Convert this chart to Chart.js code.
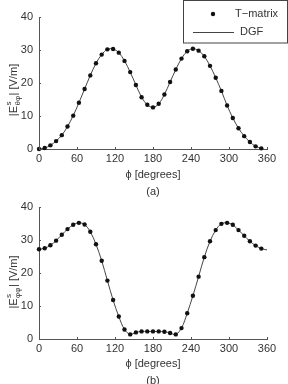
<!DOCTYPE html>
<html>
<head>
<meta charset="utf-8">
<script src="https://cdn.jsdelivr.net/npm/chart.js@4.4.1/dist/chart.umd.min.js"></script>
<style>
  html, body { margin: 0; padding: 0; background: #fff; overflow: hidden; }
  body { width: 288px; height: 384px; position: relative; }
  canvas { position: absolute; left: 0; }
  #chartA { top: 0; }
  #chartB { top: 192px; }
</style>
</head>
<body>
<canvas id="chartA" width="288" height="200"></canvas>
<canvas id="chartB" width="288" height="197"></canvas>
<script>
// angles (degrees) of the T-matrix samples
const angles = [0, 9, 18, 27, 36, 45, 54, 63, 72, 81, 90, 99, 108, 117, 126, 135, 144, 153, 162, 171,
                180, 189, 198, 207, 216, 225, 234, 243, 252, 261, 270, 279, 288, 297, 306, 315, 324, 333, 342, 351];

// (a) |E_theta phi| [V/m]
const tmatrixA = [0, 0.3, 1.1, 2.4, 4.2, 6.8, 10.1, 14, 18.2, 22.3, 26, 28.6, 30.2, 30.3, 29.2, 26.7, 23.3, 19.4, 15.7, 13.4,
                  12.6, 13.7, 16.5, 20.3, 24.1, 27.4, 29.6, 30.4, 29.8, 28.1, 25.2, 21.6, 17.6, 13.2, 9.4, 6.3, 3.9, 2.1, 0.8, 0.2];
// (b) |E_phi phi| [V/m]
const tmatrixB = [27.2, 27.5, 28.4, 29.8, 31.6, 33.3, 34.6, 35.2, 34.7, 32.5, 28.7, 23.7, 17.7, 11.8, 6.8, 2.9, 1.4, 2.0, 2.3, 2.3,
                  2.3, 2.3, 2.2, 1.8, 1.4, 3.3, 7.8, 13.1, 18.9, 24.8, 29.6, 33.0, 34.9, 35.2, 34.6, 33.0, 31.3, 29.6, 28.3, 27.4];

// DGF curve: same samples, the (b) curve closes at 360 degrees
const dgfAnglesA = angles;
const dgfA = tmatrixA;
const dgfAnglesB = angles.concat([360]);
const dgfB = tmatrixB.concat([27.0]);

const xTicks = [0, 60, 120, 180, 240, 300, 360];
const yTicks = [0, 10, 20, 30, 40];

const legendLabels = ['T\u2212matrix', 'DGF'];

const FONT = '"Liberation Sans", Arial, sans-serif';
const TEXT = '#333';
const AXIS = '#555';

function toPoints(xs, ys) {
    return xs.map((x, i) => ({ x: x, y: ys[i] }));
}

// y axis title with super/subscripts, inward tick marks and the boxed legend
const extrasPlugin = {
    id: 'extras',
    afterDraw(chart, args, opts) {
        const ctx = chart.ctx;
        const xs = chart.scales.x, ys = chart.scales.y;
        const area = chart.chartArea;

        // inward ticks
        ctx.save();
        ctx.strokeStyle = AXIS;
        ctx.lineWidth = 1;
        ctx.beginPath();
        xTicks.forEach(v => {
            const px = Math.round(xs.getPixelForValue(v)) + 0.5;
            ctx.moveTo(px, area.bottom);
            ctx.lineTo(px, area.bottom - 2);
        });
        yTicks.forEach(v => {
            const py = Math.round(ys.getPixelForValue(v)) + 0.5;
            ctx.moveTo(area.left, py);
            ctx.lineTo(area.left + 2, py);
        });
        ctx.stroke();
        ctx.restore();

        // y title
        ctx.save();
        ctx.translate(opts.titleX, opts.titleY);
        ctx.rotate(-Math.PI / 2);
        ctx.fillStyle = TEXT;
        ctx.textBaseline = 'middle';
        const mainA = '|E';
        const mainB = '| [V/m]';
        ctx.font = '11px ' + FONT;
        const wA = ctx.measureText(mainA).width;
        const wB = ctx.measureText(mainB).width;
        ctx.font = '8px ' + FONT;
        const wSup = ctx.measureText('s').width;
        const wSub = ctx.measureText(opts.sub).width;
        const wS = Math.max(wSup, wSub) + 1;
        let x = -(wA + wS + wB) / 2;
        ctx.font = '11px ' + FONT;
        ctx.textAlign = 'left';
        ctx.fillText(mainA, x, 0);
        x += wA;
        ctx.font = '8px ' + FONT;
        ctx.fillText('s', x + 0.5, -5);
        ctx.fillText(opts.sub, x + 0.5, 4);
        x += wS;
        ctx.font = '11px ' + FONT;
        ctx.fillText(mainB, x, 0);
        ctx.restore();

        // legend box
        if (opts.legend) {
            const tm = chart.data.datasets[0];
            const dg = chart.data.datasets[1];
            ctx.save();
            ctx.strokeStyle = '#444';
            ctx.lineWidth = 1;
            ctx.fillStyle = '#fff';
            ctx.fillRect(183.5, 0.5, 104, 42.5);
            ctx.strokeRect(183.5, 0.5, 104, 42.5);
            ctx.fillStyle = tm.pointBackgroundColor;
            ctx.beginPath();
            ctx.arc(213, 14, tm.pointRadius, 0, Math.PI * 2);
            ctx.fill();
            ctx.strokeStyle = dg.borderColor;
            ctx.beginPath();
            ctx.moveTo(193, 32.5);
            ctx.lineTo(234, 32.5);
            ctx.stroke();
            ctx.fillStyle = TEXT;
            ctx.font = '11px ' + FONT;
            ctx.textBaseline = 'middle';
            ctx.textAlign = 'left';
            ctx.fillText(legendLabels[0], 235, 14);
            ctx.fillText(legendLabels[1], 240, 32);
            ctx.restore();
        }
    }
};

function makeChart(id, tm, dgfX, dgfY, caption, padTop, xHeight, extras) {
    return new Chart(document.getElementById(id), {
        type: 'scatter',
        data: {
            datasets: [{
                label: legendLabels[0],
                data: toPoints(angles, tm),
                pointRadius: 2.2,
                pointBackgroundColor: '#111',
                pointBorderWidth: 0,
                showLine: false,
                clip: false,
                order: 0
            }, {
                label: legendLabels[1],
                data: toPoints(dgfX, dgfY),
                showLine: true,
                pointRadius: 0,
                borderColor: '#444',
                borderWidth: 1,
                tension: 0.35,
                clip: false,
                order: 1
            }]
        },
        options: {
            responsive: false,
            animation: false,
            devicePixelRatio: 1,
            layout: { padding: { top: padTop, right: 21, bottom: 0, left: 0 } },
            plugins: {
                legend: { display: false },
                tooltip: { enabled: false },
                extras: extras
            },
            scales: {
                x: {
                    type: 'linear',
                    min: 0,
                    max: 360,
                    afterBuildTicks: scale => { scale.ticks = xTicks.map(v => ({ value: v })); },
                    afterFit: scale => { scale.height = xHeight; },
                    grid: { display: false, drawTicks: false },
                    border: { display: true, color: AXIS, width: 1 },
                    ticks: { color: TEXT, font: { family: FONT, size: 11 }, padding: 3, maxRotation: 0 },
                    title: {
                        display: true,
                        text: ['\u03d5 [degrees]', caption],
                        color: TEXT,
                        font: { family: FONT, size: 11, lineHeight: 17 / 11 },
                        padding: { top: 0, bottom: 0 }
                    }
                },
                y: {
                    min: 0,
                    max: 40,
                    afterBuildTicks: scale => { scale.ticks = yTicks.map(v => ({ value: v })); },
                    afterFit: scale => { scale.width = 39; },
                    grid: { display: false, drawTicks: false },
                    border: { display: true, color: AXIS, width: 1 },
                    ticks: { color: TEXT, font: { family: FONT, size: 11 }, padding: 6 }
                }
            }
        },
        plugins: [extrasPlugin]
    });
}

makeChart('chartA', tmatrixA, dgfAnglesA, dgfA, '(a)', 17, 51,
    { titleX: 14, titleY: 90, sub: '\u03b8\u03c6', legend: true });
makeChart('chartB', tmatrixB, dgfAnglesB, dgfB, '(b)', 15, 50,
    { titleX: 14, titleY: 90, sub: '\u03c6\u03c6', legend: false });
</script>
</body>
</html>
